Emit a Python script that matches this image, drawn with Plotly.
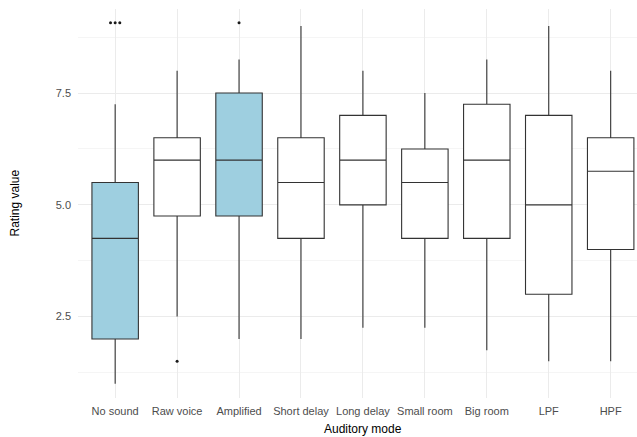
import plotly.graph_objects as go

categories = ["No sound", "Raw voice", "Amplified", "Short delay", "Long delay",
              "Small room", "Big room", "LPF", "HPF"]
lower_whisker = [1.0, 2.5, 2.0, 2.0, 2.25, 2.25, 1.75, 1.5, 1.5]
q1_values = [2.0, 4.75, 4.75, 4.25, 5.0, 4.25, 4.25, 3.0, 4.0]
medians = [4.25, 6.0, 6.0, 5.5, 6.0, 5.5, 6.0, 5.0, 5.75]
q3_values = [5.5, 6.5, 7.5, 6.5, 7.0, 6.25, 7.25, 7.0, 6.5]
upper_whisker = [7.25, 8.0, 8.25, 9.0, 8.0, 7.5, 8.25, 9.0, 8.0]
highlighted = ["No sound", "Amplified"]

outlier_category = [0, 0, 0, 1, 2]
outlier_value = [9.07, 9.07, 9.07, 1.5, 9.07]
outlier_dx = [-0.075, 0.0, 0.075, 0.0, 0.0]

y_ticks = [2.5, 5.0, 7.5]
y_minor = [1.25, 3.75, 6.25, 8.75]

fig = go.Figure()
for i, cat in enumerate(categories):
    fill = "#9ECFE0" if cat in highlighted else "#FFFFFF"
    fig.add_trace(go.Box(
        x=[i], q1=[q1_values[i]], median=[medians[i]], q3=[q3_values[i]],
        lowerfence=[lower_whisker[i]], upperfence=[upper_whisker[i]],
        width=0.75, whiskerwidth=0, fillcolor=fill,
        line=dict(color="#333333", width=1.1),
        boxpoints=False, showlegend=False, hoverinfo="skip", name=cat,
    ))

fig.add_trace(go.Scatter(
    x=[c + d for c, d in zip(outlier_category, outlier_dx)], y=outlier_value,
    mode="markers", marker=dict(color="#1A1A1A", size=3, line=dict(width=0)),
    showlegend=False, hoverinfo="skip",
))

tick_font = dict(family="Liberation Sans, Arial, sans-serif", size=11, color="#4D4D4D")
title_font = dict(family="Liberation Sans, Arial, sans-serif", size=12, color="#000000")

fig.update_layout(
    width=637, height=437,
    margin=dict(l=78, r=0, t=9, b=39),
    plot_bgcolor="white", paper_bgcolor="white",
    xaxis=dict(
        range=[-0.6, 8.425], tickmode="array", tickvals=list(range(len(categories))),
        ticktext=categories, showgrid=True, gridcolor="#EBEBEB", gridwidth=1,
        zeroline=False, showline=False, ticks="", tickfont=tick_font,
        ticklabelstandoff=5, automargin=False,
    ),
    yaxis=dict(
        range=[0.68, 9.38], tickmode="array", tickvals=y_ticks,
        ticktext=["2.5", "5.0", "7.5"], showgrid=True, gridcolor="#EBEBEB", gridwidth=1,
        zeroline=False, showline=False, ticks="", tickfont=tick_font,
        ticklabelstandoff=6, automargin=False,
        minor=dict(tickvals=y_minor, showgrid=True, gridcolor="#F5F5F5", gridwidth=0.6),
    ),
    annotations=[
        dict(text="Auditory mode", xref="paper", yref="paper",
             x=(363 - 78) / (637 - 78), y=0, yshift=-31, xanchor="center", yanchor="middle",
             showarrow=False, font=title_font),
        dict(text="Rating value", xref="paper", yref="paper",
             x=0, y=0.5, xshift=-64, xanchor="center", yanchor="middle", textangle=-90,
             showarrow=False, font=title_font),
    ],
)

fig.write_html("out.html", config={"displayModeBar": False},
               post_script="document.body.style.margin='0px';")
